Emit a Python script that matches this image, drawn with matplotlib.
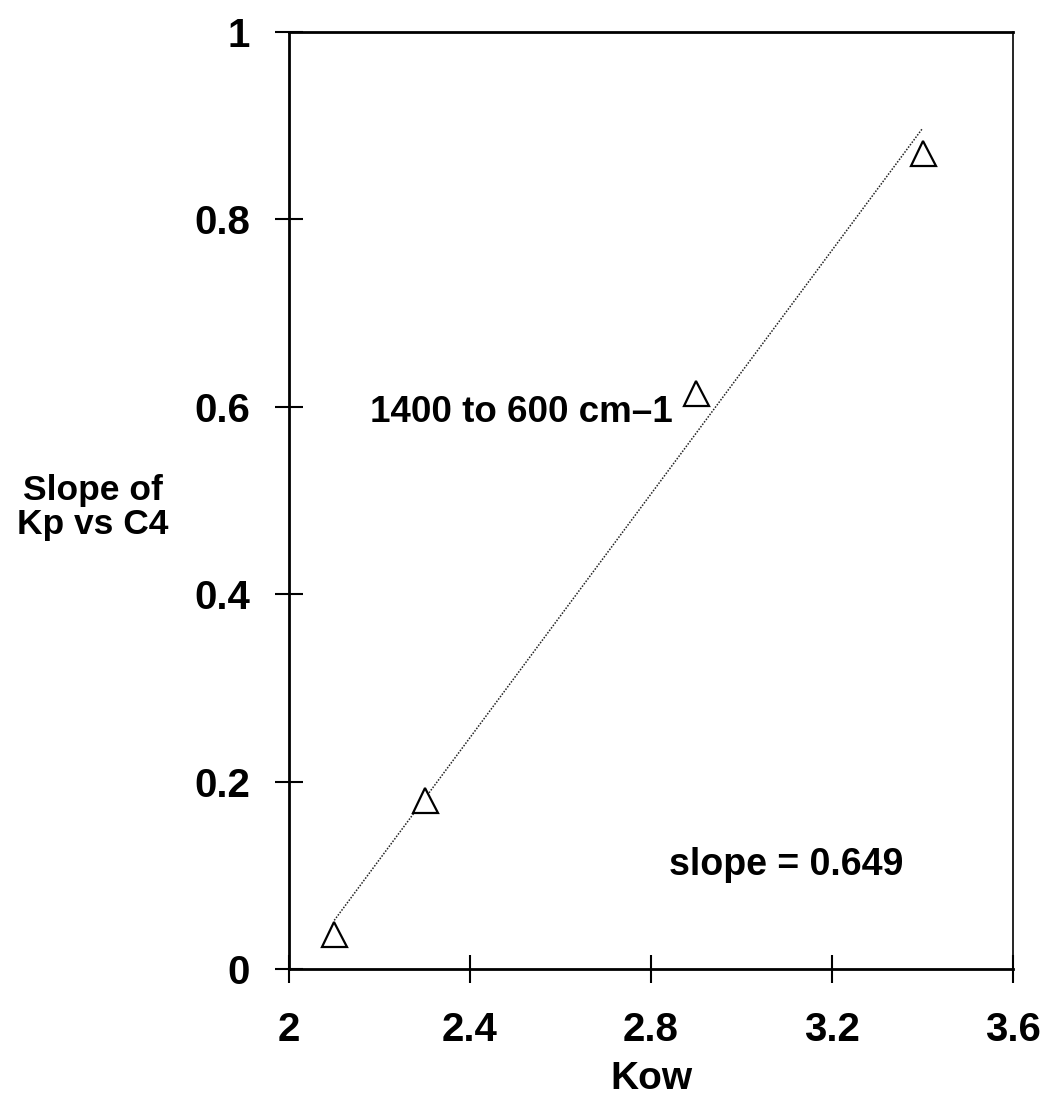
import numpy as np
import matplotlib
matplotlib.use("Agg")
import matplotlib.pyplot as plt

kow = [2.1, 2.3, 2.9, 3.4]
slope_kp = [0.037, 0.180, 0.615, 0.871]

xticks = [2, 2.4, 2.8, 3.2, 3.6]
yticks = [0, 0.2, 0.4, 0.6, 0.8, 1]

plt.rcParams['font.family'] = ['Liberation Sans', 'DejaVu Sans']
plt.rcParams['font.weight'] = 'bold'

fig = plt.figure(figsize=(10.43, 11.05), dpi=100)
ax = fig.add_axes([0.2771, 0.1231, 0.6942, 0.848])

# linear fit through the points
m, b = np.polyfit(kow, slope_kp, 1)
fx = np.array([min(kow), max(kow)])
ax.plot(fx, m * fx + b, linestyle=(0, (1, 1)), color='#222222', linewidth=1.1)

ax.plot(kow, slope_kp, linestyle='none', marker='^', markersize=18,
        markerfacecolor='white', markeredgecolor='black', markeredgewidth=1.6)

ax.set_xlim(2, 3.6)
ax.set_ylim(0, 1)
ax.set_xticks(xticks)
ax.set_xticklabels(['2', '2.4', '2.8', '3.2', '3.6'])
ax.set_yticks(yticks)
ax.set_yticklabels(['0', '0.2', '0.4', '0.6', '0.8', '1'])

ax.tick_params(direction='inout', length=20, width=1.5, labelsize=29)
ax.tick_params(axis='x', pad=20)
ax.tick_params(axis='y', pad=18)
for lab in ax.get_xticklabels() + ax.get_yticklabels():
    lab.set_fontweight('bold')

for side in ['left', 'bottom', 'top']:
    ax.spines[side].set_linewidth(2)
ax.spines['right'].set_linewidth(1.2)

ax.set_xlabel('Kow', fontsize=28, fontweight='bold', labelpad=9)
fig.text(0.089, 0.541, 'Slope of\nKp vs C4', fontsize=25.5, fontweight='bold',
         ha='center', va='center', linespacing=1.05)

ax.text(2.18, 0.594, '1400 to 600 cm\u20131', fontsize=26.5, fontweight='bold',
        ha='left', va='center')
ax.text(2.84, 0.111, 'slope = 0.649', fontsize=27, fontweight='bold',
        ha='left', va='center')

fig.savefig('out.png', dpi=100)
